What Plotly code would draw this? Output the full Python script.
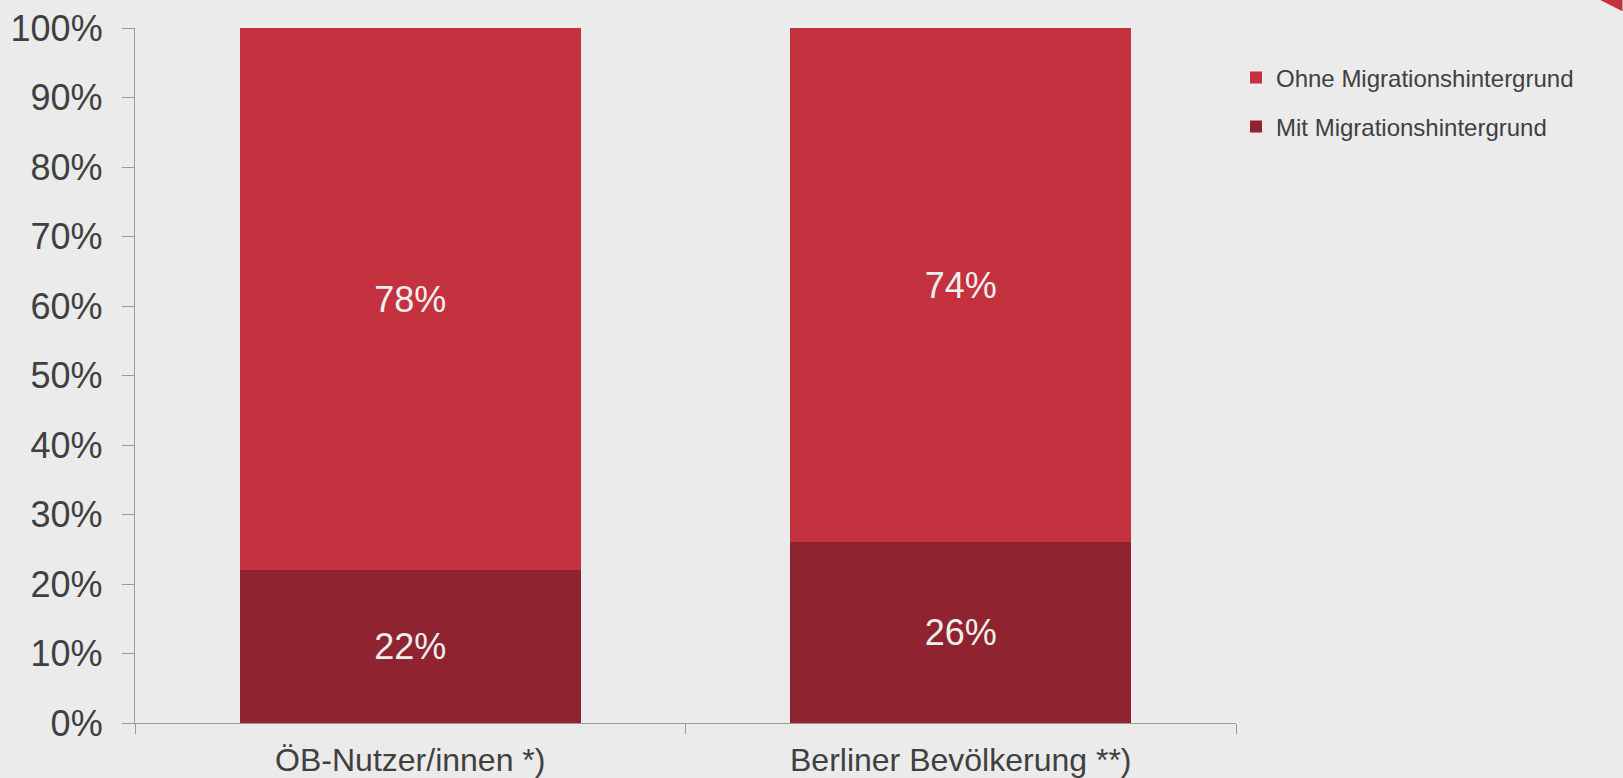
import plotly.graph_objects as go

categories = ["ÖB-Nutzer/innen *)", "Berliner Bevölkerung **)"]
mit = [22, 26]
ohne = [78, 74]
y_ticks = [0, 10, 20, 30, 40, 50, 60, 70, 80, 90, 100]

BG = "#EBEBEB"
LIGHT = "#C4313F"
DARK = "#8F2430"
TXT = "#404040"
FONT = "Liberation Sans, Arial, sans-serif"

fig = go.Figure()
fig.add_trace(go.Bar(
    x=categories, y=mit, name="Mit Migrationshintergrund",
    marker=dict(color=DARK, line=dict(width=0)),
    text=[f"{v}%" for v in mit], textposition="inside", insidetextanchor="middle",
    textfont=dict(size=36, color="#EEEEEE", family=FONT),
    legend="legend2", showlegend=True,
))
fig.add_trace(go.Bar(
    x=categories, y=ohne, name="Ohne Migrationshintergrund",
    marker=dict(color=LIGHT, line=dict(width=0)),
    text=[f"{v}%" for v in ohne], textposition="inside", insidetextanchor="middle",
    textfont=dict(size=36, color="#EEEEEE", family=FONT),
    legend="legend", showlegend=True,
))

legend_common = dict(
    xref="container", yref="container", xanchor="left", yanchor="middle",
    font=dict(size=24, color=TXT, family=FONT), bgcolor="rgba(0,0,0,0)",
    itemwidth=30, borderwidth=0, visible=True,
)

fig.update_layout(
    barmode="stack",
    bargap=0.38,
    width=1623, height=778,
    margin=dict(l=135, r=386, t=28, b=55),
    paper_bgcolor=BG, plot_bgcolor=BG,
    font=dict(family=FONT, color=TXT),
    showlegend=True,
    uniformtext=dict(minsize=10, mode="show"),
    legend=dict(x=1236 / 1623, y=1 - 78 / 778, **legend_common),
    legend2=dict(x=1236 / 1623, y=1 - 127 / 778, **legend_common),
    xaxis=dict(
        automargin=False,
        showline=True, linecolor="#9A9A9A", linewidth=1.3,
        ticks="outside", tickson="boundaries", ticklen=10, tickcolor="#9A9A9A",
        tickfont=dict(size=32, color=TXT, family=FONT),
        ticklabelstandoff=8,
        showgrid=False, zeroline=False,
    ),
    yaxis=dict(
        automargin=False,
        range=[0, 100], tickvals=y_ticks, ticktext=[f"{v}%" for v in y_ticks],
        showline=True, linecolor="#9A9A9A", linewidth=1.3,
        ticks="outside", ticklen=12, tickcolor="#9A9A9A",
        tickfont=dict(size=36, color=TXT, family=FONT),
        ticklabelstandoff=12,
        showgrid=False, zeroline=False,
    ),
    shapes=[dict(
        type="path", xref="paper", yref="paper",
        path="M 1.33,1.041 L 1.351,1.041 L 1.351,1.024 Z",
        fillcolor=LIGHT, line=dict(width=0),
    )],
)

fig.write_html(
    "out.html",
    config={"displayModeBar": False},
    post_script="document.body.style.margin='0';document.body.style.background='#EBEBEB';",
)
